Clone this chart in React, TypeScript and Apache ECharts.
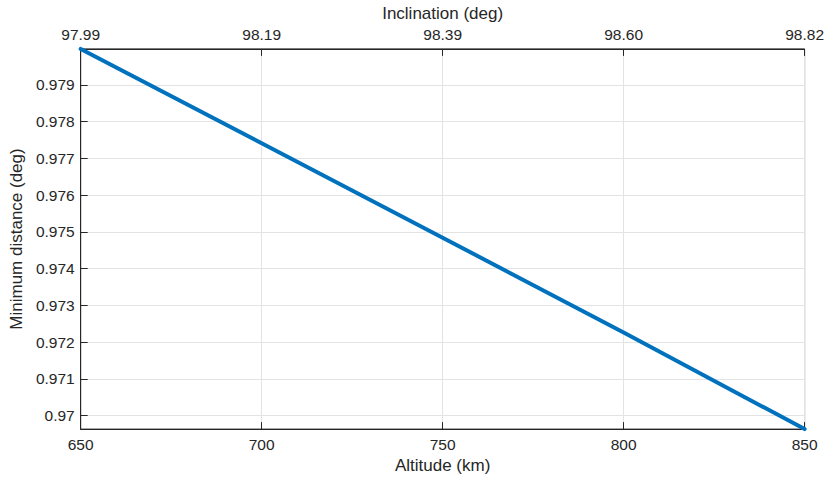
import React, { useEffect, useRef } from "react";
import * as echarts from "echarts";

const altitudes = [650, 700, 750, 800, 850];
const minDistance = [0.97998, 0.97741, 0.97484, 0.97226, 0.96963];
const altitudeTicks = [650, 700, 750, 800, 850];
const inclinationLabels = ["97.99", "98.19", "98.39", "98.60", "98.82"];
const distanceTicks = [0.970, 0.971, 0.972, 0.973, 0.974, 0.975, 0.976, 0.977, 0.978, 0.979];

const TEXT = "#262626";
const FONT = "Liberation Sans, Arial, Helvetica, sans-serif";
const GRIDC = "#e3e3e3";

export default function App() {
  const ref = useRef<HTMLDivElement>(null);
  useEffect(() => {
    document.body.style.margin = "0";
    if (!ref.current) return;
    const chart = echarts.init(ref.current, null, { renderer: "svg" });
    const axisCommon = {
      axisLine: { show: true, lineStyle: { color: TEXT, width: 1 } },
      axisTick: { show: true, inside: true, length: 7, lineStyle: { color: TEXT } },
      nameTextStyle: { color: TEXT, fontSize: 17, fontFamily: FONT },
    };
    chart.setOption({
      animation: false,
      backgroundColor: "#ffffff",
      textStyle: { fontFamily: FONT },
      grid: {
        left: 74,
        top: 48,
        right: 22,
        bottom: 47,
        show: true,
        borderColor: TEXT,
        borderWidth: 1,
        backgroundColor: "transparent",
      },
      xAxis: [
        {
          ...axisCommon,
          type: "value",
          position: "bottom",
          min: 650,
          max: 850,
          interval: 50,
          name: "Altitude (km)",
          nameLocation: "middle",
          nameGap: 25,
          axisLabel: { color: TEXT, fontSize: 15.5, fontFamily: FONT, margin: 7 },
          splitLine: { show: true, lineStyle: { color: GRIDC, width: 1 } },
        },
        {
          ...axisCommon,
          type: "value",
          position: "top",
          min: 650,
          max: 850,
          interval: 50,
          name: "Inclination (deg)",
          nameLocation: "middle",
          nameGap: 24,
          axisLabel: {
            color: TEXT,
            fontSize: 15.5,
            fontFamily: FONT,
            margin: 6,
            formatter: (v: number) => {
              const i = altitudeTicks.indexOf(Math.round(v));
              return i >= 0 ? inclinationLabels[i] : "";
            },
          },
          splitLine: { show: false },
        },
      ],
      yAxis: [
        {
          ...axisCommon,
          type: "value",
          min: 0.96963,
          max: 0.97998,
          splitNumber: 10,
          name: "Minimum distance (deg)",
          nameLocation: "middle",
          nameGap: 47,
          axisTick: { show: true, inside: true, length: 7, lineStyle: { color: TEXT }, customValues: distanceTicks },
          axisLabel: {
            color: TEXT,
            fontSize: 15.5,
            fontFamily: FONT,
            margin: 6,
            customValues: distanceTicks,
            formatter: (v: number) => String(parseFloat(v.toFixed(3))),
          },
          splitLine: { show: true, lineStyle: { color: GRIDC, width: 1 } },
        },
      ],
      series: [
        {
          type: "line",
          xAxisIndex: 0,
          yAxisIndex: 0,
          data: altitudes.map((a, i) => [a, minDistance[i]]),
          showSymbol: false,
          clip: false,
          lineStyle: { color: "#0072BD", width: 4, cap: "round" },
          z: 5,
        },
      ],
    });
    return () => chart.dispose();
  }, []);
  return <div ref={ref} style={{ width: 827, height: 479 }} />;
}
